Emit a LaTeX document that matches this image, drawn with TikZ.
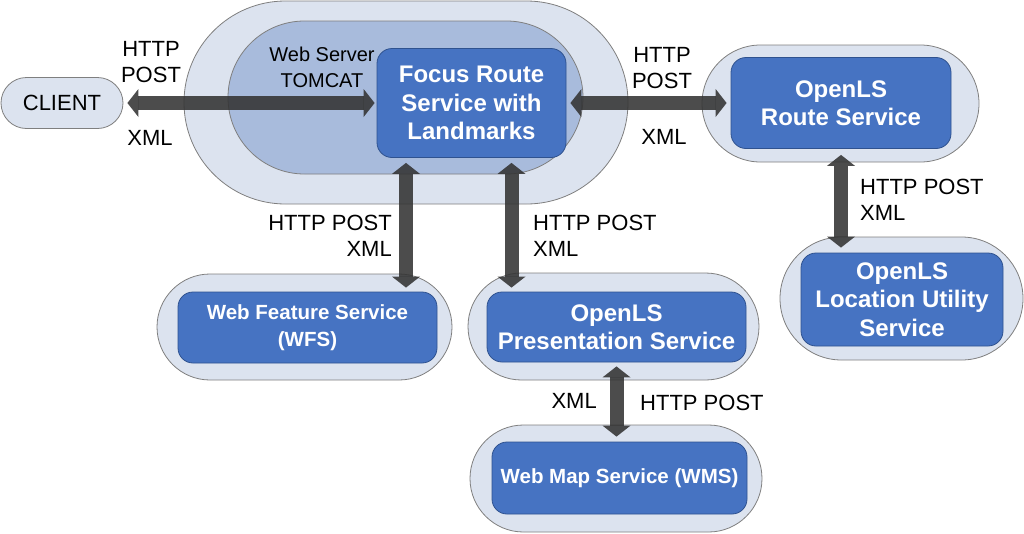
\documentclass[tikz,border=0pt]{standalone}
\usepackage{fontspec}
\setmainfont{Liberation Sans}
\usetikzlibrary{arrows.meta,shapes.misc}
\definecolor{pillfill}{HTML}{DCE3EF}
\definecolor{pillline}{HTML}{7F7F7F}
\definecolor{srvfill}{HTML}{A8BBDC}
\definecolor{svcfill}{HTML}{4673C2}
\definecolor{svcline}{HTML}{2F528F}
\definecolor{arrfill}{HTML}{333333}

\begin{document}
\begin{tikzpicture}[x=1pt,y=-1pt,
 pill/.style={rounded rectangle,draw=pillline,fill=pillfill,line width=.8pt,inner sep=0pt},
 svc/.style={draw=svcline,fill=svcfill,rounded corners=15pt,line width=.8pt,text=white,align=center,inner sep=0pt,font=\bfseries\fontsize{24}{28.5}\selectfont},
 small/.style={font=\bfseries\fontsize{20.5}{27}\selectfont},
 lbl/.style={align=center,inner sep=0pt,font=\fontsize{22}{26}\selectfont},
 tip/.style={Triangle[width=28pt,length=11pt,line width=0pt]},
 bigarr/.style={{Triangle[width=28pt,length=11pt,line width=0pt]}-{Triangle[width=28pt,length=11pt,line width=0pt]},line width=14pt,draw=arrfill,opacity=.88}]
\useasboundingbox (0,0) rectangle (1024,533);
\node[pill,minimum width=444pt,minimum height=203pt] (srvOut) at (406,102.5) {};
\node[pill,fill=srvfill,minimum width=355pt,minimum height=153pt] (srvIn) at (405.5,97.5) {};
\node[pill,minimum width=122pt,minimum height=51pt,font=\fontsize{22}{26}\selectfont] (client) at (62,103) {CLIENT};
\node[pill,minimum width=277pt,minimum height=117pt] (routeOut) at (840.5,103.5) {};
\node[pill,minimum width=243pt,minimum height=123pt] (locOut) at (901.5,298.5) {};
\node[pill,minimum width=295pt,minimum height=106pt] (wfsOut) at (304.5,327) {};
\node[pill,minimum width=291pt,minimum height=107pt] (presOut) at (613.5,326.5) {};
\node[pill,minimum width=292pt,minimum height=107pt] (wmsOut) at (616,478.5) {};
\node[svc,minimum width=189pt,minimum height=109pt] (focus) at (471.5,103) {Focus Route\\Service with\\Landmarks};
\node[svc,minimum width=220pt,minimum height=91pt] (route) at (841,103) {OpenLS\\Route Service};
\node[svc,minimum width=202pt,minimum height=93pt] (loc) at (902,299.5) {OpenLS\\Location Utility\\Service};
\node[svc,small,minimum width=259pt,minimum height=71pt] (wfs) at (307.5,327.5) {Web Feature Service\\(WFS)};
\node[svc,minimum width=259pt,minimum height=70pt] (pres) at (616.5,327) {OpenLS\\Presentation Service};
\node[svc,small,minimum width=255pt,minimum height=72pt] (wms) at (619.5,478) {Web Map Service (WMS)};
\draw[bigarr,shorten <=4pt,shorten >=2pt] (client.east) -- (focus.west);
\draw[bigarr,shorten <=4pt,shorten >=4pt] (focus.east) -- (route.west);
\draw[bigarr,shorten <=5pt,shorten >=4pt] (srvOut.center |- focus.south) -- (srvOut.center |- wfs.north);
\draw[bigarr,shorten <=5pt,shorten >=4pt] ([xshift=40pt]focus.south) -- ([xshift=40pt]focus.south |- pres.north);
\draw[bigarr,shorten <=4pt,shorten >=5pt] (pres.south) -- (pres.south |- wms.north);
\draw[bigarr,shorten <=6pt,shorten >=5pt] (route.south) -- (route.south |- loc.north);
\node[lbl] (cliPost) at (151,62) {HTTP\\POST};
\node[lbl] (cliXml) at (150,138) {XML};
\node[lbl,font=\fontsize{20}{26}\selectfont] (tomcat) at (322,67) {Web Server\\TOMCAT};
\node[lbl] (rtPost) at (662,68) {HTTP\\POST};
\node[lbl] (rtXml) at (664,137) {XML};
\node[lbl,anchor=west,align=left] (locLbl) at (860,200) {HTTP POST\\XML};
\node[lbl,anchor=east,align=right] (wfsLbl) at (392,236) {HTTP POST\\XML};
\node[lbl,anchor=west,align=left] (presLbl) at (533,236) {HTTP POST\\XML};
\node[lbl,anchor=east] (wmsXml) at (597,401) {XML};
\node[lbl,anchor=west] (wmsPost) at (640,403) {HTTP POST};
\end{tikzpicture}
\end{document}
